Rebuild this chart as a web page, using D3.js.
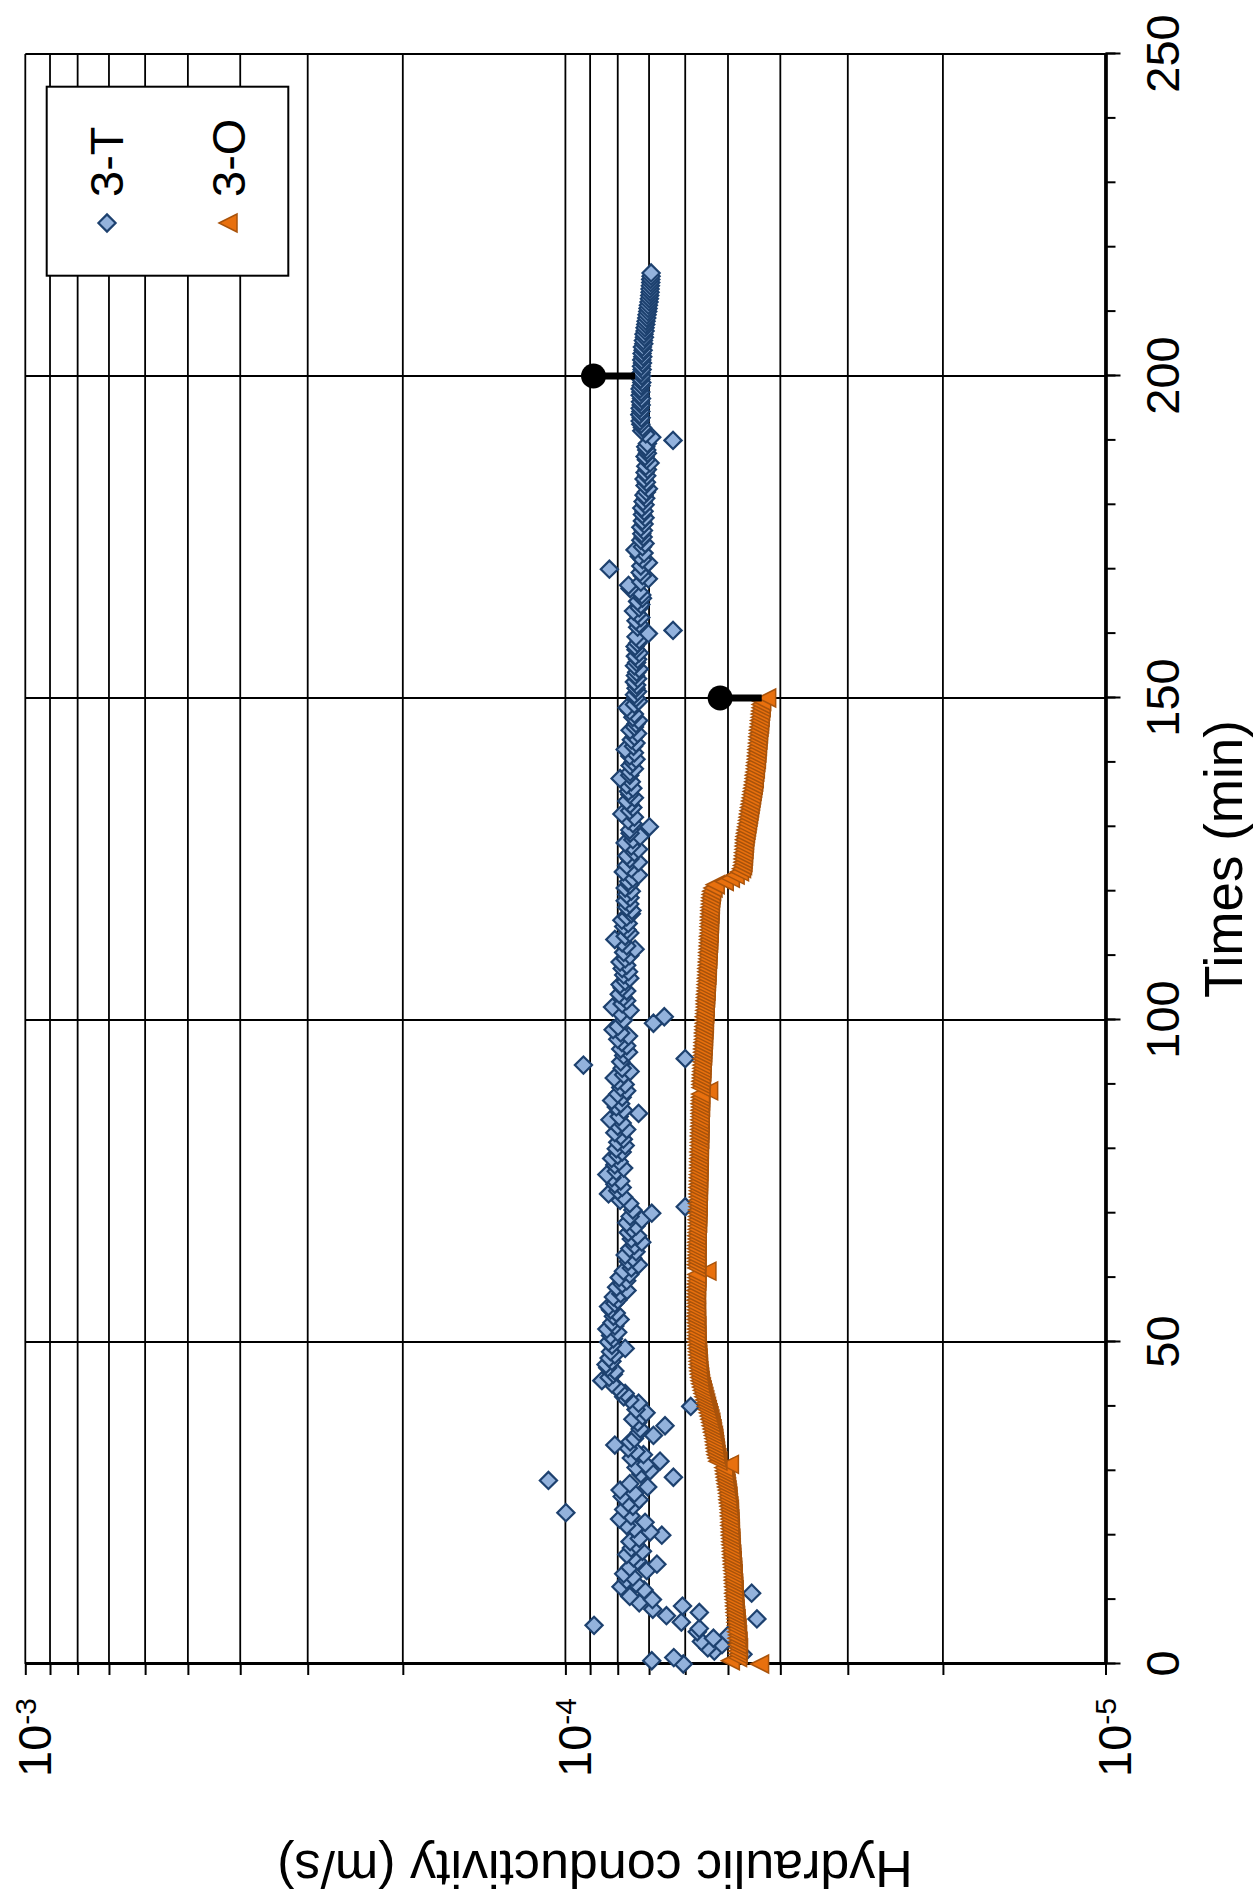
<!DOCTYPE html>
<html>
<head>
<meta charset="utf-8">
<script src="https://cdn.jsdelivr.net/npm/d3@7"></script>
<style>
  body { margin: 0; background: #fff; }
  svg { display: block; }
  text { font-family: "Liberation Sans", Arial, Helvetica, sans-serif; fill: #000; }
</style>
</head>
<body>
<svg id="chart" width="1260" height="1899"></svg>
<script>
// Hydraulic conductivity of samples 3-T and 3-O versus elapsed time.
// Conductivity values are stored in units of 1e-5 m/s, one reading every 0.5 min.
const K_UNIT = 1e-5;
const STEP_MIN = 0.5;

const seriesNames = ["3-T", "3-O"];

// 3-T, t = 0 … 216 min
const k3T = [
  6.05,6.92,6.30,4.69,5.30,5.45,5.13,5.60,5.32,4.99,
  5.70,5.65,8.85,6.10,4.42,6.50,5.65,6.89,6.07,7.30,
  6.90,7.60,4.52,7.15,7.89,7.40,7.70,7.50,7.80,7.07,
  7.60,6.77,7.35,7.48,7.70,7.20,7.55,7.40,7.59,7.30,
  6.63,6.97,7.45,7.70,7.12,7.94,7.56,9.98,7.80,7.50,
  7.65,7.30,7.85,7.45,7.92,7.04,7.60,10.75,6.31,7.25,
  6.97,7.40,7.10,6.68,7.55,7.17,7.40,7.65,8.10,7.59,
  7.45,6.87,7.30,7.27,6.54,7.35,7.50,7.20,7.09,7.40,
  5.86,7.32,7.60,7.80,7.75,7.95,8.04,8.20,8.56,8.30,
  8.15,8.10,8.35,8.41,8.20,8.30,8.10,8.25,7.75,8.20,
  8.32,8.15,8.25,8.00,8.38,8.10,8.20,7.92,8.15,8.05,
  8.25,8.32,8.10,8.00,8.15,7.90,7.69,8.04,7.85,7.70,
  7.95,7.60,7.81,7.55,7.32,7.65,7.50,7.75,7.40,7.60,
  7.45,7.22,7.55,7.35,7.65,7.53,7.40,7.70,7.22,7.59,
  6.92,7.50,6.00,7.60,7.92,7.80,8.32,8.00,7.85,8.10,
  7.90,8.20,8.38,8.05,7.80,8.10,7.95,8.21,8.00,7.85,
  8.05,7.75,8.00,7.81,7.90,8.10,7.70,8.00,7.85,8.27,
  7.95,7.32,7.80,8.05,7.90,8.21,7.85,8.00,7.70,7.90,
  7.75,8.00,8.12,7.80,7.59,7.85,9.26,7.90,6.00,7.80,
  7.64,7.90,7.70,7.86,8.00,7.64,7.90,8.16,7.99,6.87,
  7.80,6.56,7.90,7.59,8.18,7.85,7.70,7.81,7.95,7.70,
  7.85,7.92,7.75,7.60,7.80,7.64,7.85,7.70,7.92,7.75,
  7.60,7.80,7.43,7.70,7.85,8.10,7.75,7.60,7.69,7.80,
  7.65,7.86,7.70,7.55,7.53,7.70,7.60,7.75,7.59,7.70,
  7.55,7.75,7.60,7.64,7.50,7.32,7.81,7.55,7.70,7.32,
  7.60,7.69,7.45,7.32,7.55,7.75,7.50,7.27,7.59,7.60,
  6.99,7.50,7.65,7.45,7.86,7.60,7.50,7.59,7.70,7.45,
  7.60,7.64,7.50,7.70,7.55,7.92,7.60,7.59,7.45,7.59,
  7.50,7.40,7.60,7.45,7.75,7.48,7.40,7.55,7.45,7.35,
  7.59,7.45,7.40,7.32,7.50,7.45,7.60,7.69,7.45,7.32,
  7.40,7.45,7.35,7.40,7.38,7.45,7.35,7.42,7.38,7.30,
  7.45,7.38,7.35,7.42,7.30,7.40,7.43,7.35,7.30,7.40,
  7.02,6.32,7.35,7.30,7.40,7.25,7.35,7.48,7.30,7.25,
  7.35,7.20,7.22,7.30,7.59,7.64,7.25,7.02,7.20,7.27,
  8.29,7.25,7.02,7.20,7.30,7.15,7.43,7.20,7.12,7.25,
  7.18,7.22,7.17,7.25,7.15,7.20,7.12,7.20,7.15,7.22,
  7.12,7.18,7.10,7.15,7.08,7.02,7.12,7.08,7.15,7.07,
  7.12,7.05,7.10,6.97,7.08,7.12,7.05,7.07,7.10,7.05,
  6.32,6.92,7.10,7.22,7.20,7.25,7.27,7.24,7.28,7.25,
  7.27,7.24,7.26,7.23,7.27,7.25,7.27,7.24,7.22,7.25,
  7.22,7.24,7.21,7.23,7.20,7.22,7.19,7.21,7.18,7.20,
  7.16,7.17,7.14,7.15,7.12,7.12,7.10,7.09,7.07,7.06,
  7.04,7.03,7.02,7.00,6.99,6.98,6.97,6.97,6.96,6.95,
  6.95,6.94,6.94
];

// 3-O, t = 0 … 150 min
const k3O = [
  4.37,4.95,4.80,4.79,4.80,4.78,4.80,4.79,4.81,4.80,
  4.82,4.81,4.82,4.83,4.83,4.84,4.85,4.85,4.86,4.86,
  4.87,4.87,4.88,4.87,4.88,4.88,4.89,4.89,4.89,4.90,
  4.90,4.91,4.91,4.92,4.92,4.93,4.93,4.94,4.94,4.94,
  4.95,4.95,4.95,4.96,4.96,4.96,4.97,4.97,4.97,4.98,
  4.99,5.00,5.00,5.01,5.02,5.03,5.04,5.05,5.06,5.07,
  5.08,5.09,4.97,5.22,5.24,5.26,5.27,5.28,5.29,5.30,
  5.31,5.32,5.34,5.35,5.37,5.38,5.40,5.42,5.44,5.46,
  5.48,5.50,5.52,5.54,5.56,5.58,5.60,5.62,5.63,5.64,
  5.65,5.66,5.67,5.67,5.68,5.68,5.69,5.69,5.70,5.70,
  5.71,5.72,5.71,5.72,5.72,5.71,5.72,5.72,5.73,5.72,
  5.72,5.73,5.72,5.73,5.73,5.72,5.73,5.72,5.72,5.71,
  5.71,5.71,5.47,5.71,5.72,5.71,5.72,5.71,5.71,5.72,
  5.71,5.71,5.70,5.71,5.70,5.70,5.70,5.69,5.70,5.69,
  5.69,5.69,5.68,5.69,5.68,5.68,5.68,5.67,5.68,5.67,
  5.67,5.67,5.67,5.66,5.67,5.66,5.66,5.66,5.65,5.66,
  5.65,5.65,5.65,5.64,5.65,5.64,5.64,5.64,5.63,5.64,
  5.63,5.63,5.63,5.62,5.63,5.62,5.62,5.62,5.43,5.61,
  5.61,5.61,5.60,5.60,5.59,5.59,5.59,5.58,5.58,5.57,
  5.57,5.57,5.56,5.56,5.55,5.55,5.55,5.54,5.54,5.53,
  5.53,5.53,5.52,5.52,5.51,5.51,5.51,5.50,5.50,5.49,
  5.49,5.49,5.48,5.48,5.47,5.47,5.47,5.46,5.46,5.45,
  5.45,5.45,5.44,5.44,5.43,5.43,5.43,5.42,5.42,5.42,
  5.41,5.41,5.41,5.40,5.40,5.40,5.39,5.39,5.38,5.37,
  5.36,5.33,5.28,5.08,4.95,4.85,4.76,4.72,4.70,4.69,
  4.69,4.68,4.68,4.67,4.67,4.66,4.66,4.65,4.64,4.63,
  4.62,4.61,4.60,4.59,4.58,4.57,4.56,4.55,4.54,4.53,
  4.52,4.51,4.50,4.49,4.48,4.47,4.47,4.46,4.45,4.45,
  4.44,4.43,4.43,4.42,4.42,4.41,4.41,4.40,4.40,4.39,
  4.39,4.38,4.37,4.37,4.36,4.36,4.35,4.34,4.34,4.33,
  4.24
];

// End-of-test markers: dot at k, bar back to the series value kTo (1e-5 m/s)
const endMarkTimes = [200, 150];
const endMarkK = [8.87, 5.17];
const endMarkKTo = [7.43, 4.33];

const timeTicks = [0, 50, 100, 150, 200, 250];
const timeMinorTicks = [0,10,20,30,40,50,60,70,80,90,100,110,120,130,140,150,160,170,180,190,200,210,220,230,240,250];
const kTicks = [1e-3, 1e-4, 1e-5];
const kExponents = ["-3", "-4", "-5"];
const kMinorMultipliers = [2, 3, 4, 5, 6, 7, 8, 9];

const toPoints = arr => arr.map((k, i) => ({ t: i * STEP_MIN, k: k * K_UNIT }));
const pts3T = toPoints(k3T);
const pts3O = toPoints(k3O);
const endMarks = endMarkTimes.map((t, i) => ({ t, k: endMarkK[i] * K_UNIT, kTo: endMarkKTo[i] * K_UNIT }));

const svg = d3.select("#chart");

// The chart is laid out in a landscape frame (1899 × 1260) and turned a quarter
// turn counter-clockwise onto the portrait page.
const root = svg.append("g").attr("transform", "translate(0,1899) rotate(-90)");

const x = d3.scaleLinear().domain([0, 250]).range([235, 1845]);
const y = d3.scaleLog().domain([1e-5, 1e-3]).range([1105.5, 25.3]);

const minorK = [];
[-5, -4].forEach(e => kMinorMultipliers.forEach(m => minorK.push(m * Math.pow(10, e))));
const gridK = kTicks.concat(minorK);

// grid
const grid = root.append("g").attr("stroke", "#000").attr("stroke-width", 1.8);
grid.selectAll("line.gk").data(gridK).join("line").attr("class", "gk")
  .attr("x1", x(0)).attr("x2", x(250))
  .attr("y1", d => y(d)).attr("y2", d => y(d));
grid.selectAll("line.gt").data(timeTicks.slice(1)).join("line").attr("class", "gt")
  .attr("x1", d => x(d)).attr("x2", d => x(d))
  .attr("y1", y(1e-3)).attr("y2", y(1e-5));

// time axis (bottom of the landscape frame)
const xAxisG = root.append("g").attr("transform", `translate(0,${y(1e-5)})`);
xAxisG.append("g")
  .call(d3.axisBottom(x).tickValues(timeMinorTicks).tickSize(10).tickSizeOuter(0).tickFormat(""));
const xMajor = xAxisG.append("g")
  .call(d3.axisBottom(x).tickValues(timeTicks).tickSize(15).tickSizeOuter(0).tickFormat(d3.format("d")));
xAxisG.selectAll("path.domain").attr("stroke", "#000").attr("stroke-width", 3.2);
xAxisG.selectAll(".tick line").attr("stroke", "#000").attr("stroke-width", 2);
xMajor.selectAll(".tick text")
  .attr("y", 73.5).attr("dy", null)
  .style("font-size", "47px");
xAxisG.attr("font-family", null).attr("font-size", null);
xMajor.attr("font-family", null).attr("font-size", null);

// conductivity axis (left of the landscape frame)
const yAxisG = root.append("g").attr("transform", `translate(${x(0)},0)`);
yAxisG.append("g")
  .call(d3.axisLeft(y).tickValues(minorK).tickSize(11).tickSizeOuter(0).tickFormat(""));
const yMajor = yAxisG.append("g")
  .call(d3.axisLeft(y).tickValues(kTicks).tickSize(11).tickSizeOuter(0));
yAxisG.selectAll("path.domain").attr("stroke", "#000").attr("stroke-width", 3.2);
yAxisG.selectAll(".tick line").attr("stroke", "#000").attr("stroke-width", 2);
yMajor.attr("font-family", null).attr("font-size", null);
yMajor.selectAll(".tick text").each(function (d, i) {
  const t = d3.select(this);
  t.text(null).attr("x", -34).attr("y", 25).attr("dy", null)
    .attr("text-anchor", "end").style("font-size", "47px");
  t.append("tspan").text("10");
  t.append("tspan").text(kExponents[i]).style("font-size", "30px").attr("dy", -15);
});

// series markers
const diamondPath = "M0,-8.6L8.6,0L0,8.6L-8.6,0Z";
const trianglePath = "M0,-9L9,9L-9,9Z";

root.append("g").selectAll("path").data(pts3T).join("path")
  .attr("d", diamondPath)
  .attr("transform", d => `translate(${x(d.t)},${y(d.k)})`)
  .attr("fill", "#93b2dc").attr("stroke", "#1d416f").attr("stroke-width", 2.2);

root.append("g").selectAll("path").data(pts3O).join("path")
  .attr("d", trianglePath)
  .attr("transform", d => `translate(${x(d.t)},${y(d.k)})`)
  .attr("fill", "#e8700e").attr("stroke", "#a9530b").attr("stroke-width", 1.5)
  .attr("stroke-linejoin", "miter");

// end-of-test markers
const ends = root.append("g");
ends.selectAll("line").data(endMarks).join("line")
  .attr("x1", d => x(d.t)).attr("x2", d => x(d.t))
  .attr("y1", d => y(d.k)).attr("y2", d => y(d.kTo))
  .attr("stroke", "#000").attr("stroke-width", 7);
ends.selectAll("circle").data(endMarks).join("circle")
  .attr("cx", d => x(d.t)).attr("cy", d => y(d.k)).attr("r", 12.5)
  .attr("fill", "#000");

// axis titles
root.append("text")
  .attr("x", (x(0) + x(250)) / 2).attr("y", 1242)
  .attr("text-anchor", "middle").style("font-size", "53px")
  .text("Times (min)");
root.append("text")
  .attr("transform", `translate(48,595) rotate(-90)`)
  .attr("text-anchor", "middle").style("font-size", "52px")
  .text("Hydraulic conductivity (m/s)");

// legend
const legend = root.append("g");
legend.append("rect")
  .attr("x", 1623.3).attr("y", 46.7).attr("width", 189).attr("height", 241.6)
  .attr("fill", "#fff").attr("stroke", "#000").attr("stroke-width", 2);
const legendRows = [
  { name: seriesNames[0], cy: 107, base: 123, path: diamondPath, fill: "#93b2dc", stroke: "#1d416f", sw: 2.2 },
  { name: seriesNames[1], cy: 228, base: 245, path: trianglePath, fill: "#e8700e", stroke: "#a9530b", sw: 1.5 }
];
legendRows.forEach(r => {
  legend.append("path").attr("d", r.path)
    .attr("transform", `translate(1676,${r.cy})`)
    .attr("fill", r.fill).attr("stroke", r.stroke).attr("stroke-width", r.sw);
  legend.append("text").attr("x", 1702).attr("y", r.base)
    .style("font-size", "47px").text(r.name);
});
</script>
</body>
</html>
